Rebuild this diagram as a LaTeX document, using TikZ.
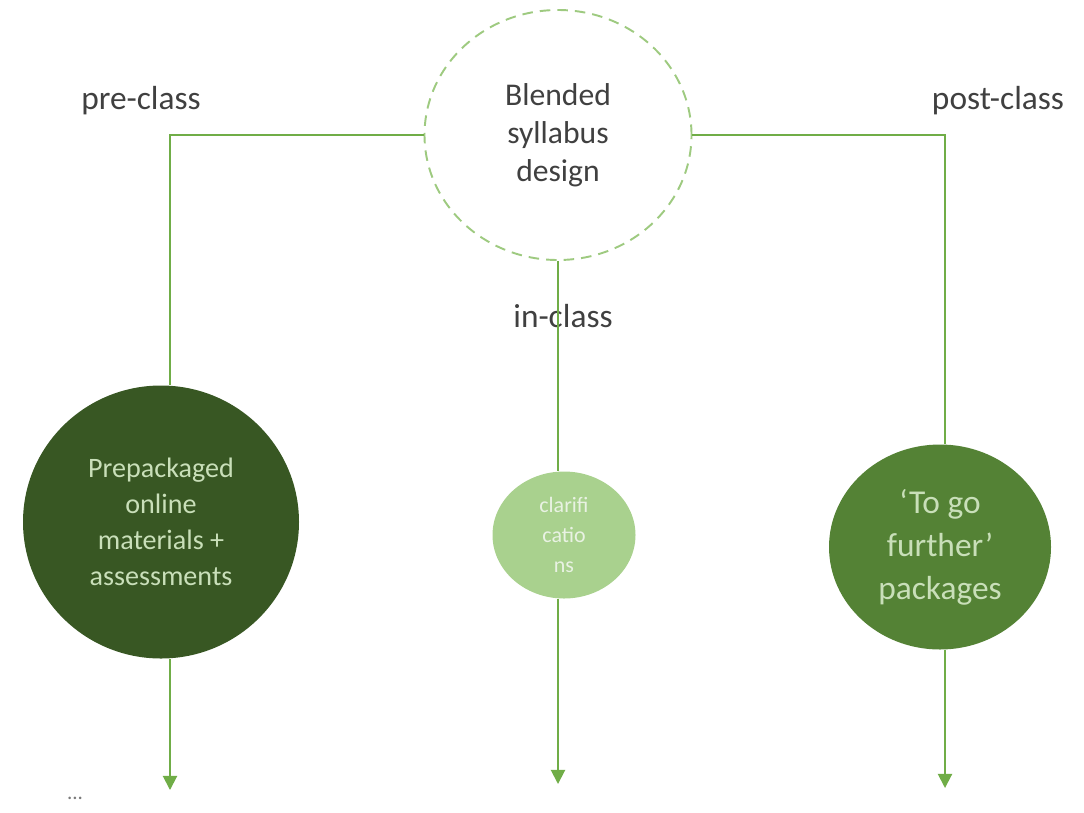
\documentclass[tikz,border=0pt]{standalone}
\usepackage{fontspec}
\setmainfont{Carlito}
\usepackage{tikz}
\usetikzlibrary{positioning, arrows.meta, shapes.geometric, calc}
\usepackage{xcolor}
\definecolor{syllline}{HTML}{70AD47}
\definecolor{sylldark}{HTML}{385723}
\definecolor{syllmid}{HTML}{548235}
\definecolor{sylllight}{HTML}{A9D18E}
\definecolor{sylltext}{HTML}{C9DFB9}
\definecolor{syllgray}{HTML}{404040}

\begin{document}
\begin{tikzpicture}[x=0.02cm, y=-0.02cm, font=\fontsize{19}{23}\selectfont,
  blob/.style={ellipse, inner sep=0pt, align=center, text=sylltext},
  link/.style={syllline, line width=1.1pt},
  flow/.style={link, -{Triangle[width=8pt,length=8pt]}},
  phase/.style={text=syllgray, anchor=base}]
\useasboundingbox (0,0) rectangle (1084,812);
\node[ellipse, draw=sylllight!80!syllline, dashed, dash pattern=on 6pt off 4pt,
  line width=1.1pt, minimum width=267*0.02cm, minimum height=250*0.02cm,
  align=center, text=syllgray, font=\fontsize{18}{21.5}\selectfont]
  (design) at (558,135) {Blended\\syllabus\\design};
\node[blob, fill=sylldark, minimum width=276*0.02cm, minimum height=273*0.02cm,
  font=\fontsize{16}{20.5}\selectfont] (pre) at (161,522)
  {Prepackaged\\online\\materials +\\assessments};
\node[blob, fill=sylllight, minimum width=143*0.02cm, minimum height=127*0.02cm,
  text=sylltext!40!white, font=\fontsize{12.5}{17}\selectfont] (clar) at (564,535)
  {clarifi\\catio\\ns};
\node[blob, fill=syllmid, minimum width=222*0.02cm, minimum height=205*0.02cm,
  font=\fontsize{19}{24.5}\selectfont] (post) at (940,547)
  {‘To go\\further’\\packages};
\node[phase] (prel) at (141,109) {pre-class};
\node[phase] (postl) at (998,109) {post-class};
\node[phase] (inl) at (563,327) {in-class};
\node[text=syllgray!70, font=\fontsize{12}{14}\selectfont] (more) at (75,798) {...};
\coordinate (prex) at (170,400);
\coordinate (postx) at (945,450);
\coordinate (preend) at (170,790);
\coordinate (clarend) at (558,784);
\coordinate (postend) at (945,788);
\draw[link] (design.west) -| (pre.north -| prex);
\draw[link] (design.east) -| (post.north -| postx);
\draw[link] (design.south) -- (clar.north -| design.south);
\draw[flow] (pre.south -| preend) -- (preend);
\draw[flow] (clar.south -| clarend) -- (clarend);
\draw[flow] (post.south -| postend) -- (postend);
\end{tikzpicture}
\end{document}
